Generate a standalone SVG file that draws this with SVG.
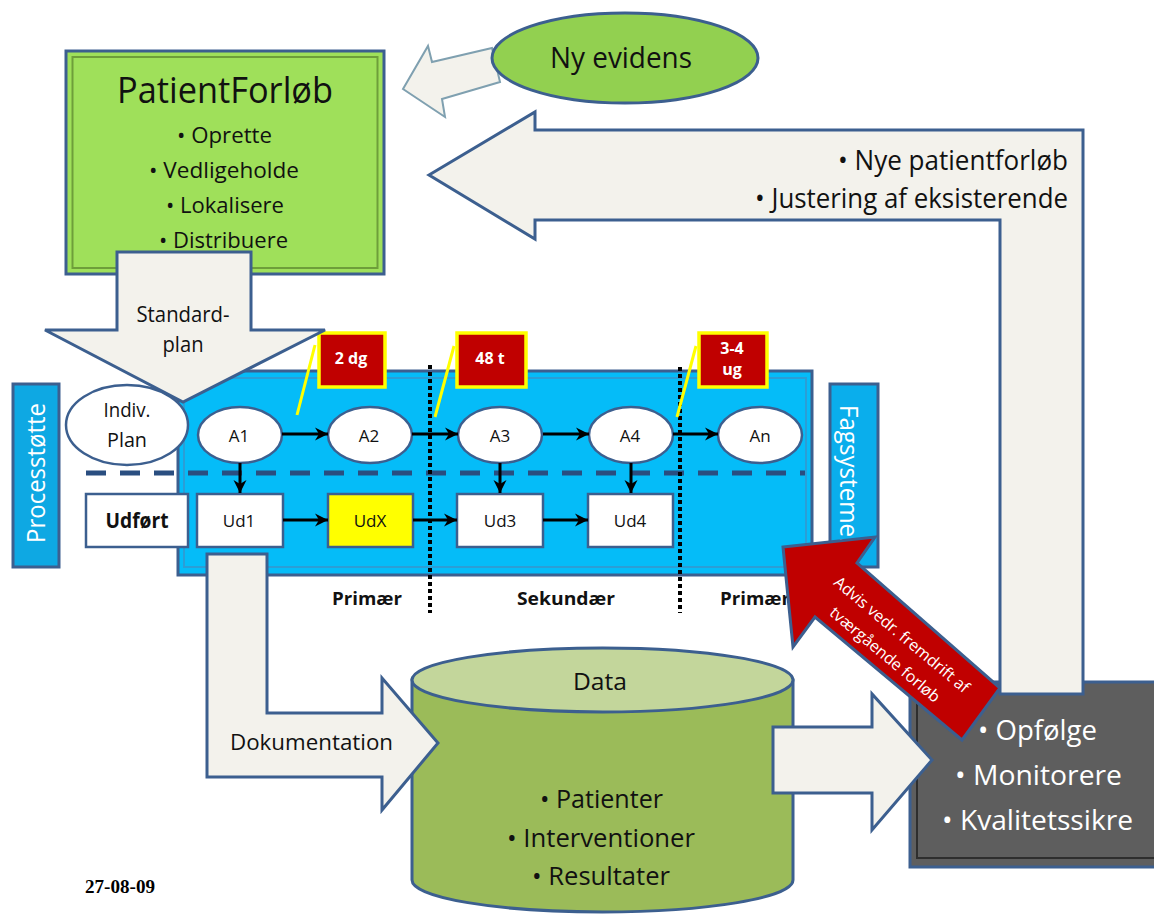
<svg xmlns="http://www.w3.org/2000/svg" width="1154" height="915" viewBox="0 0 1154 915">
<defs>
<style>
.bs{stroke:#3C5F8F;stroke-width:3}
.lt{fill:#F3F2EC}
.t{font-family:"Open Sans","Liberation Sans",sans-serif;fill:#111}
.w{fill:#fff}
.m{text-anchor:middle}
.e{text-anchor:end}
.b{font-weight:bold}
.node{fill:#fff;stroke:#3C5F8F;stroke-width:2.5}
.ar{stroke:#000;stroke-width:3;fill:none;marker-end:url(#ah)}
.lbl{fill:#C00000;stroke:#FFFF00;stroke-width:3.5}
.cl{stroke:#FFFF00;stroke-width:3}
.dot{stroke:#000;stroke-width:4;stroke-dasharray:4 3}
</style>
<marker id="ah" markerUnits="userSpaceOnUse" markerWidth="14" markerHeight="14" refX="13" refY="7" orient="auto">
<path d="M0,0.5 L13,7 L0,13.5 L4,7 z" fill="#000"/>
</marker>
</defs>
<rect width="1154" height="915" fill="#fff"/>

<g id="patientforloeb">
<rect x="66" y="51" width="318" height="223" fill="#9FE05A" class="bs"/>
<rect x="72.5" y="57" width="305" height="211" fill="none" stroke="#6E9E3A" stroke-width="2"/>
<text class="t m" x="225" y="103" font-size="36" textLength="216" lengthAdjust="spacingAndGlyphs">PatientForløb</text>
<text class="t m" x="224.5" y="143" font-size="22" textLength="95" lengthAdjust="spacingAndGlyphs">• Oprette</text>
<text class="t m" x="224" y="178" font-size="22" textLength="150" lengthAdjust="spacingAndGlyphs">• Vedligeholde</text>
<text class="t m" x="225" y="213" font-size="22" textLength="118" lengthAdjust="spacingAndGlyphs">• Lokalisere</text>
<text class="t m" x="223.5" y="248" font-size="22" textLength="129" lengthAdjust="spacingAndGlyphs">• Distribuere</text>
</g>

<g id="ny-evidens">
<polygon points="403,89 428,46 432,62 492,48 500,82 442,99 445,117" class="lt" stroke="#7FA0B0" stroke-width="2"/>
<ellipse cx="625" cy="58" rx="133" ry="45" fill="#92D050" class="bs"/>
<text class="t m" x="621" y="68" font-size="30" textLength="142" lengthAdjust="spacingAndGlyphs">Ny evidens</text>
</g>

<g id="opfoelge">
<rect x="910" y="682" width="250" height="185" fill="#5E5E5E" class="bs"/>
<path d="M917,690 L917,858 L1160,858" fill="none" stroke="#2E2E2E" stroke-width="2"/>
<text class="t w m" x="1037.5" y="740" font-size="27" textLength="119" lengthAdjust="spacingAndGlyphs">• Opfølge</text>
<text class="t w m" x="1038.5" y="785" font-size="27" textLength="167" lengthAdjust="spacingAndGlyphs">• Monitorere</text>
<text class="t w m" x="1037.5" y="830" font-size="27" textLength="191" lengthAdjust="spacingAndGlyphs">• Kvalitetssikre</text>
</g>

<g id="data">
<path d="M412,680 L412,880 A190.5,32 0 0 0 793,880 L793,680 Z" fill="#9BBB59" class="bs"/>
<ellipse cx="602.5" cy="680" rx="190.5" ry="32" fill="#C3D69B" class="bs"/>
<text class="t m" x="600" y="690" font-size="24" textLength="54" lengthAdjust="spacingAndGlyphs">Data</text>
<text class="t m" x="601.5" y="808" font-size="26" textLength="123" lengthAdjust="spacingAndGlyphs">• Patienter</text>
<text class="t m" x="601" y="847" font-size="26" textLength="188" lengthAdjust="spacingAndGlyphs">• Interventioner</text>
<text class="t m" x="601" y="885" font-size="26" textLength="138" lengthAdjust="spacingAndGlyphs">• Resultater</text>
</g>

<g id="fagsystemer">
<rect x="830" y="384" width="48" height="183" fill="#0AAEEC" class="bs"/>
<text class="t w" transform="translate(840,405) rotate(90)" font-size="26" textLength="142" lengthAdjust="spacingAndGlyphs">Fagsystemer</text>
</g>

<g id="processtoette">
<rect x="13" y="384" width="46" height="183" fill="#0EA8E3" class="bs"/>
<text class="t w m" transform="translate(45,473) rotate(-90)" font-size="26" textLength="140" lengthAdjust="spacingAndGlyphs">Processtøtte</text>
</g>

<g id="forloeb-ramme">
<rect x="178" y="371" width="634" height="204" fill="#05BCF8" class="bs"/>
<rect x="184" y="378" width="622" height="189" fill="none" stroke="#2B9ED6" stroke-width="2"/>
</g>

<g id="indiv-plan">
<ellipse cx="127" cy="425" rx="61" ry="40" class="node"/>
<text class="t m" x="127" y="417" font-size="20" textLength="47" lengthAdjust="spacingAndGlyphs">Indiv.</text>
<text class="t m" x="127" y="447" font-size="20" textLength="40" lengthAdjust="spacingAndGlyphs">Plan</text>
</g>

<g id="a1"><ellipse cx="240" cy="435" rx="42" ry="28" class="node"/><text class="t m" x="239" y="442" font-size="17">A1</text></g>
<g id="a2"><ellipse cx="370" cy="435" rx="42" ry="28" class="node"/><text class="t m" x="369" y="442" font-size="17">A2</text></g>
<g id="a3"><ellipse cx="500" cy="435" rx="42" ry="28" class="node"/><text class="t m" x="500" y="442" font-size="17">A3</text></g>
<g id="a4"><ellipse cx="631" cy="435" rx="42" ry="28" class="node"/><text class="t m" x="630" y="442" font-size="17">A4</text></g>
<g id="an"><ellipse cx="760" cy="435" rx="42" ry="28" class="node"/><text class="t m" x="760" y="442" font-size="17">An</text></g>

<g id="udfoert"><rect x="86" y="494" width="102" height="53" class="node"/><text class="t m b" x="137" y="528" font-size="21" textLength="63" lengthAdjust="spacingAndGlyphs">Udført</text></g>
<g id="ud1"><rect x="197" y="494" width="86" height="53" class="node"/><text class="t m" x="239" y="527" font-size="17">Ud1</text></g>
<g id="udx"><rect x="328" y="494" width="85" height="53" fill="#FFFF00" stroke="#3C5F8F" stroke-width="2.5"/><text class="t m" x="370" y="527" font-size="17">UdX</text></g>
<g id="ud3"><rect x="457" y="494" width="86" height="53" class="node"/><text class="t m" x="500" y="527" font-size="17">Ud3</text></g>
<g id="ud4"><rect x="588" y="494" width="85" height="53" class="node"/><text class="t m" x="630" y="527" font-size="17">Ud4</text></g>

<g id="connectors">
<line x1="86" y1="473" x2="805" y2="473" stroke="#2A4E80" stroke-width="5" stroke-dasharray="20 14"/>
<line class="ar" x1="282" y1="434" x2="328" y2="434"/>
<line class="ar" x1="412" y1="434" x2="458" y2="434"/>
<line class="ar" x1="543" y1="434" x2="589" y2="434"/>
<line class="ar" x1="673" y1="434" x2="718" y2="434"/>
<line class="ar" x1="240" y1="463" x2="240" y2="493"/>
<line class="ar" x1="500" y1="463" x2="500" y2="493"/>
<line class="ar" x1="631" y1="463" x2="631" y2="493"/>
<line class="ar" x1="283" y1="520" x2="328" y2="520"/>
<line class="ar" x1="413" y1="520" x2="457" y2="520"/>
<line class="ar" x1="543" y1="520" x2="588" y2="520"/>
</g>

<g id="sektorgraenser">
<line class="dot" x1="430" y1="365" x2="430" y2="613"/>
<line class="dot" x1="680" y1="367" x2="680" y2="613"/>
<text class="t m b" x="367" y="605" font-size="17" textLength="70" lengthAdjust="spacingAndGlyphs">Primær</text>
<text class="t m b" x="566" y="605" font-size="17" textLength="98" lengthAdjust="spacingAndGlyphs">Sekundær</text>
<text class="t m b" x="755" y="605" font-size="17" textLength="70" lengthAdjust="spacingAndGlyphs">Primær</text>
</g>

<g id="tid-2dg">
<line class="cl" x1="315" y1="345" x2="297" y2="415"/>
<rect x="319" y="333" width="66" height="54" class="lbl"/>
<text class="t w m b" x="351" y="364" font-size="16">2 dg</text>
</g>
<g id="tid-48t">
<line class="cl" x1="454" y1="346" x2="435" y2="417"/>
<rect x="457" y="333" width="69" height="54" class="lbl"/>
<text class="t w m b" x="490" y="364" font-size="16">48 t</text>
</g>
<g id="tid-34ug">
<line class="cl" x1="696" y1="346" x2="677" y2="417"/>
<rect x="699" y="333" width="68" height="54" class="lbl"/>
<text class="t w m b" x="732" y="354" font-size="16">3-4</text>
<text class="t w m b" x="732" y="375" font-size="16">ug</text>
</g>

<g id="standardplan">
<polygon points="117,252 251,252 251,330 325,330 183,402 45,330 117,330" class="lt bs"/>
<text class="t m" x="183" y="322" font-size="21" textLength="93" lengthAdjust="spacingAndGlyphs">Standard-</text>
<text class="t m" x="183" y="352" font-size="21" textLength="41" lengthAdjust="spacingAndGlyphs">plan</text>
</g>

<g id="dokumentation">
<polygon points="207,554 267,554 267,713 382,713 382,678 438,743 382,810 382,777 207,777" class="lt bs"/>
<text class="t" x="230" y="750" font-size="22" textLength="163" lengthAdjust="spacingAndGlyphs">Dokumentation</text>
</g>

<g id="data-til-opfoelgning">
<polygon points="773,727 872,727 872,694 932,760 872,830 872,793 773,793" class="lt bs"/>
</g>

<g id="advis">
<polygon points="783,547 875,537 857,563 1000,688 962,740 815,617 793,647" fill="#C00000" class="bs"/>
<g transform="translate(893,645) rotate(40)">
<text class="t w m" x="0" y="-8" font-size="16">Advis vedr. fremdrift af</text>
<text class="t w m" x="0" y="18" font-size="16">tværgående forløb</text>
</g>
</g>

<g id="feedback">
<polygon points="429,175 535,112 535,130 1083,130 1083,694 1000,694 1000,220 535,220 535,239" class="lt bs"/>
<text class="t e" x="1068" y="170" font-size="28" textLength="230" lengthAdjust="spacingAndGlyphs">• Nye patientforløb</text>
<text class="t e" x="1068" y="208" font-size="28" textLength="313" lengthAdjust="spacingAndGlyphs">• Justering af eksisterende</text>
</g>

<text x="85" y="893" font-family="Liberation Serif,serif" font-weight="bold" font-size="19" fill="#000" textLength="70" lengthAdjust="spacingAndGlyphs">27-08-09</text>
</svg>
